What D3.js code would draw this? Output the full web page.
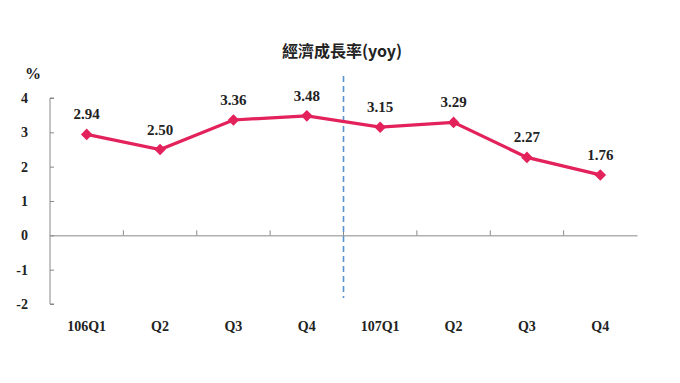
<!DOCTYPE html>
<html><head><meta charset="utf-8">
<script src="https://cdn.jsdelivr.net/npm/d3@7"></script>
<style>body{margin:0;background:#fff}svg{display:block}</style>
</head><body>
<svg id="c" width="680" height="383"></svg>
<script>
const categories = ["106Q1","Q2","Q3","Q4","107Q1","Q2","Q3","Q4"];
const values = [2.94, 2.50, 3.36, 3.48, 3.15, 3.29, 2.27, 1.76];
const labels = ["2.94","2.50","3.36","3.48","3.15","3.29","2.27","1.76"];
const yTicks = [4,3,2,1,0,-1,-2];
const title = "經濟成長率(yoy)";
const unit = "%";

(function(){
const svg = d3.select("#c");
const serif = "'Liberation Serif','Times New Roman',serif";
const pl = 50, pr = 637, pt = 98, pb = 304;
const idx = categories.map((d,i)=>i);
const x = d3.scaleBand().domain(idx).range([pl,pr]);
const y = d3.scaleLinear().domain([-2,4]).range([pb,pt]);
const color = "#E3215B";

svg.append("text").attr("x",342).attr("y",57).attr("text-anchor","middle")
  .attr("font-family","'Noto Sans CJK TC'").attr("font-weight","bold").attr("font-size",16)
  .attr("fill","#222").text(title);
svg.append("text").attr("x",33).attr("y",79).attr("text-anchor","middle")
  .attr("font-family",serif).attr("font-weight","bold").attr("font-size",16).attr("fill","#222").text(unit);

const ya = svg.append("g").attr("transform",`translate(${pl},0)`)
  .call(d3.axisRight(y).tickValues(yTicks).tickSize(4).tickFormat(""));
ya.select(".domain").attr("stroke","#888").attr("d",`M4,${pt}H0V${pb}H4`);
ya.selectAll(".tick line").attr("stroke","#888");
svg.append("g").selectAll("text").data(yTicks).join("text")
  .attr("x",28).attr("y",d=>y(d)+5).attr("text-anchor","end")
  .attr("font-family",serif).attr("font-weight","bold").attr("font-size",14).attr("fill","#222")
  .text(d=>d);

const xa = svg.append("g").attr("transform",`translate(0,${y(0)})`)
  .call(d3.axisTop(x).tickSize(0).tickFormat(""));
xa.select(".domain").attr("stroke","#888");
svg.append("g").selectAll("line").data(idx.slice(1)).join("line")
  .attr("x1",d=>x(d)).attr("x2",d=>x(d)).attr("y1",y(0)).attr("y2",y(0)-5)
  .attr("stroke","#888");
svg.append("g").selectAll("text").data(idx).join("text")
  .attr("x",d=>x(d)+x.bandwidth()/2).attr("y",331).attr("text-anchor","middle")
  .attr("font-family",serif).attr("font-weight","bold").attr("font-size",14).attr("fill","#222")
  .text(d=>categories[d]);

svg.append("line").attr("x1",x(4)).attr("x2",x(4)).attr("y1",76).attr("y2",298)
  .attr("stroke","#5B93CC").attr("stroke-width",1.6).attr("stroke-dasharray","6,4");

const cx = i=>x(i)+x.bandwidth()/2;
svg.append("path").datum(idx).attr("fill","none").attr("stroke",color).attr("stroke-width",3.2)
  .attr("d",d3.line().x(i=>cx(i)).y(i=>y(values[i])));
svg.append("g").selectAll("path").data(idx).join("path")
  .attr("transform",i=>`translate(${cx(i)},${y(values[i])})`)
  .attr("d",d3.symbol().type(d3.symbolDiamond2).size(85)).attr("fill",color);
svg.append("g").selectAll("text").data(idx).join("text")
  .attr("x",i=>cx(i)).attr("y",i=>y(values[i])-15).attr("text-anchor","middle")
  .attr("font-family",serif).attr("font-weight","bold").attr("font-size",15).attr("fill","#222")
  .text(i=>labels[i]);
})();
</script>
</body></html>
